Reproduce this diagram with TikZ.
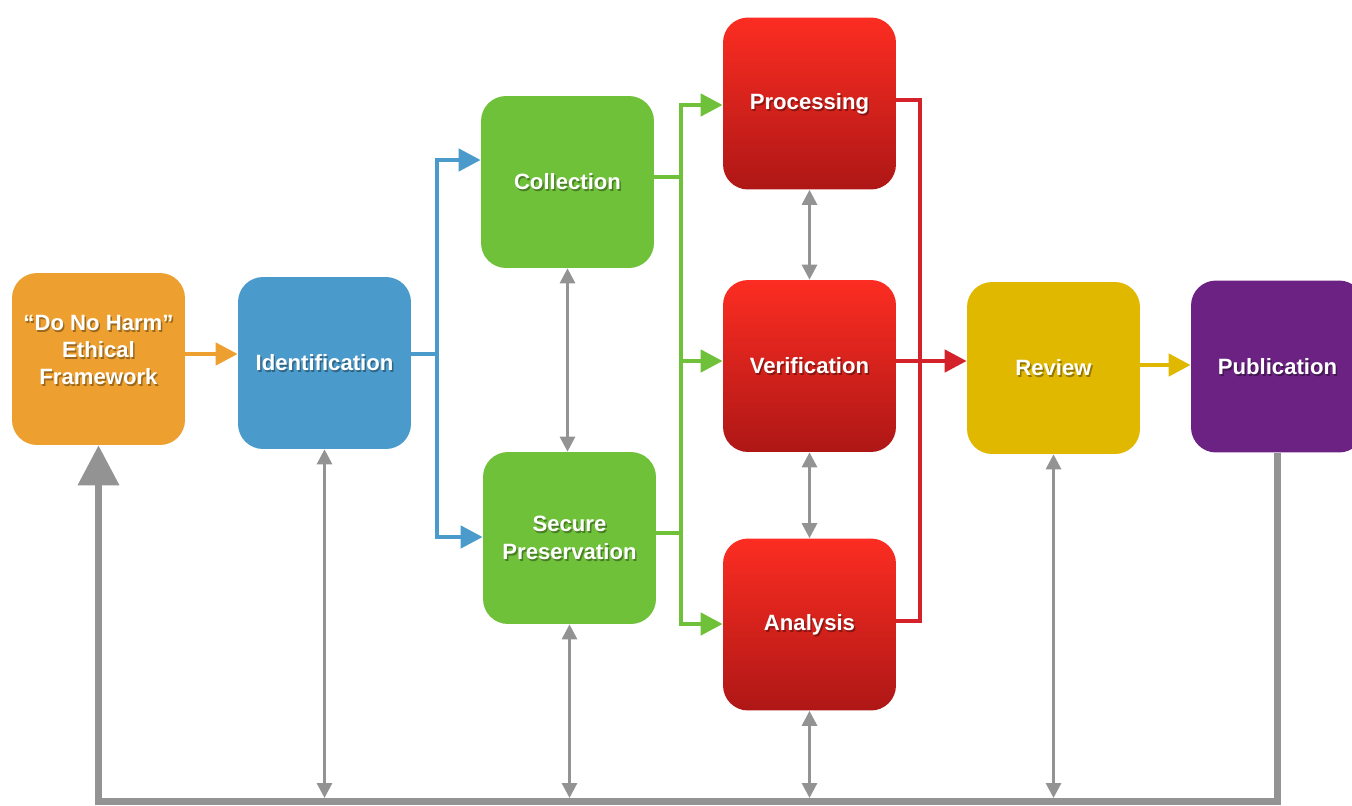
\documentclass[tikz,border=0pt]{standalone}
\usepackage{fontspec}
\setmainfont{Liberation Sans}
\usetikzlibrary{calc}
\usetikzlibrary{arrows.meta}
\definecolor{stageorange}{RGB}{237,160,48}
\definecolor{stageblue}{RGB}{74,155,203}
\definecolor{stagegreen}{RGB}{111,193,58}
\definecolor{stagered}{RGB}{211,34,42}
\definecolor{redtop}{RGB}{252,45,34}
\definecolor{redbottom}{RGB}{174,23,22}
\definecolor{stageyellow}{RGB}{224,184,0}
\definecolor{stagepurple}{RGB}{107,34,130}
\definecolor{linkgray}{RGB}{147,147,147}
\def\bw{3.46cm}
\def\bh{3.44cm}
\tikzset{
    stage lift/.initial = 0pt,
    stagebox/.style = {
        rectangle, rounded corners=0.5cm, minimum width=\bw, minimum height=\bh
    },
    stagetext/.style = {
        text=white, align=center, font=\fontsize{12.6}{15.6}\selectfont\bfseries,
        yshift=\pgfkeysvalueof{/tikz/stage lift}
    },
    pics/Stage/.style 2 args ={
        code = {
            \node [stagebox, #2](-box){};
            \node [stagetext, text=black, opacity=0.35] at (0.8pt,-1.1pt) {#1};
            \node [stagetext](-label){#1};
    }}
    }
\tikzset{
    flowline/.style = {line width=0.09cm},
    flowarrow/.style = {flowline, -{Triangle[length=0.44cm, width=0.44cm]}},
    twoway/.style = {linkgray, line width=0.06cm,
        {Triangle[length=0.3cm, width=0.3cm]}-{Triangle[length=0.3cm, width=0.3cm]}},
    feedback/.style = {linkgray, line width=0.14cm, -{Triangle[length=0.8cm, width=0.8cm]}}
    }

\begin{document}
\begin{tikzpicture}[x=0.02cm, y=-0.02cm]
    \useasboundingbox (0,0) rectangle (1352,805);
    % Place the blocks
    \pic[stage lift=0.18cm] (ethic) at (98.5,359) {Stage={“Do No Harm”\\Ethical\\Framework}{fill=stageorange}};
    \pic (ident) at (324.5,363) {Stage={Identification}{fill=stageblue}};
    \pic (coll) at (567.5,182) {Stage={Collection}{fill=stagegreen}};
    \pic (secure) at (569.5,538) {Stage={Secure\\Preservation}{fill=stagegreen}};
    \pic (proc) at (809.5,103.5) {Stage={Processing}{top color=redtop, bottom color=redbottom}};
    \pic (verif) at (809.5,366) {Stage={Verification}{top color=redtop, bottom color=redbottom}};
    \pic (anal) at (809.5,624.5) {Stage={Analysis}{top color=redtop, bottom color=redbottom}};
    \pic (review) at (1053.5,368) {Stage={Review}{fill=stageyellow}};
    \pic (pub) at (1277.5,366.5) {Stage={Publication}{fill=stagepurple}};
    \coordinate (bsplit) at (437,354);
    \coordinate (gsplit) at (681,177);
    \coordinate (rsplit) at (920,100);
    \coordinate (base) at (0,801);
    % Forward flow
    \draw[flowarrow, stageorange] (ethic-box.east |- 0,354) -- (ident-box.west |- 0,354);
    \draw[flowarrow, stageblue] (ident-box.east |- bsplit) -- (bsplit) |- (coll-box.west |- 0,160);
    \draw[flowarrow, stageblue] (ident-box.east |- bsplit) -- (bsplit) |- (secure-box.west |- 0,537);
    \draw[flowline, stagegreen] (coll-box.east |- gsplit) -- (gsplit);
    \draw[flowline, stagegreen] (secure-box.east |- 0,533) -- (gsplit |- 0,533);
    \draw[flowarrow, stagegreen] (gsplit |- 0,624) |- (proc-box.west |- 0,105);
    \draw[flowarrow, stagegreen] (gsplit |- 0,105) |- (anal-box.west |- 0,624);
    \draw[flowarrow, stagegreen] (gsplit |- 0,361) -- (verif-box.west |- 0,361);
    \draw[flowline, stagered] (proc-box.east |- rsplit) -- (rsplit) |- (anal-box.east |- 0,621);
    \draw[flowarrow, stagered] (verif-box.east |- 0,361) -- (review-box.west |- 0,361);
    \draw[flowarrow, stageyellow] (review-box.east |- 0,365) -- (pub-box.west |- 0,365);
    % Feedback and links
    \draw[feedback] (pub-box.south) -- (pub-box.south |- base) -| (ethic-box.south);
    \draw[twoway] (ident-box.south) -- (ident-box.south |- 0,798);
    \draw[twoway] (coll-box.south) -- (coll-box.south |- secure-box.north);
    \draw[twoway] (secure-box.south) -- (secure-box.south |- 0,798);
    \draw[twoway] (proc-box.south) -- (verif-box.north);
    \draw[twoway] (verif-box.south) -- (anal-box.north);
    \draw[twoway] (anal-box.south) -- (anal-box.south |- 0,798);
    \draw[twoway] (review-box.south) -- (review-box.south |- 0,798);
\end{tikzpicture}
\end{document}
